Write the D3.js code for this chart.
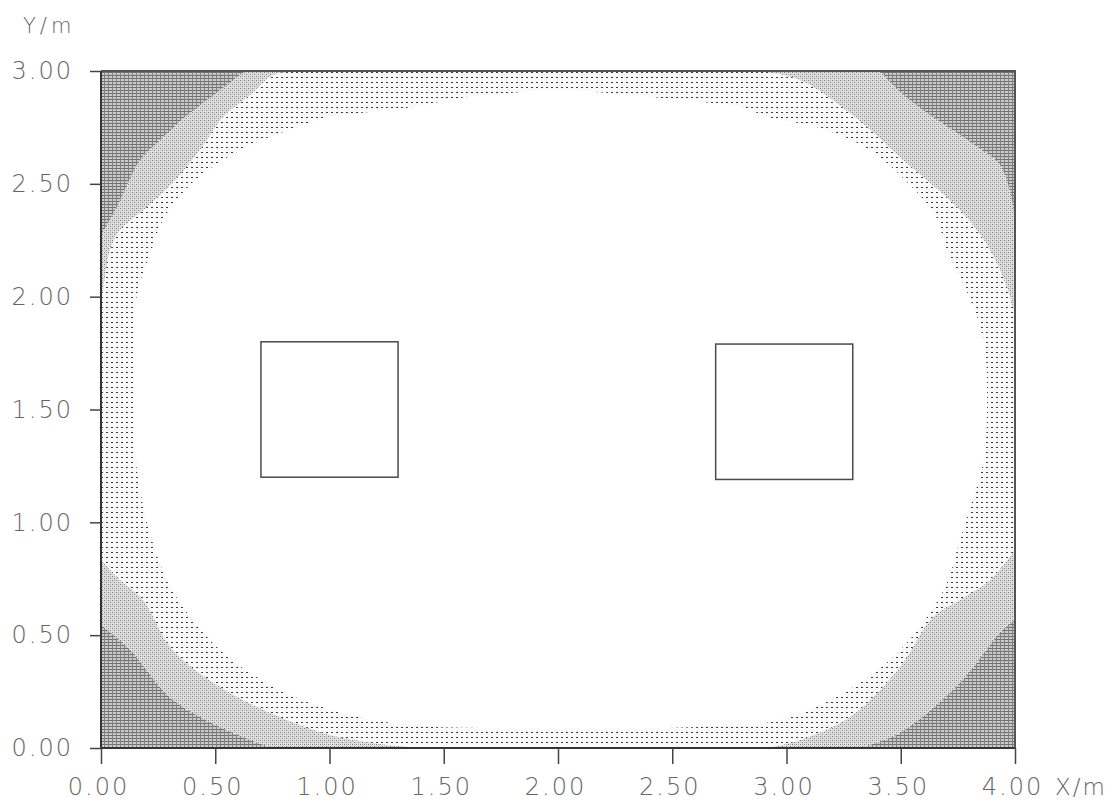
<!DOCTYPE html>
<html>
<head>
<meta charset="utf-8">
<script src="https://cdn.jsdelivr.net/npm/d3@7"></script>
<style>
  html, body { margin: 0; padding: 0; background: #fff; }
  svg { display: block; }
  .lbl, .tick text { font-family: "DejaVu Sans", "Roboto", sans-serif; font-weight: 200; fill: #666; }
  .tick text { font-size: 24px; letter-spacing: 2px; }
</style>
</head>
<body>
<svg id="chart" width="1112" height="811"></svg>
<script>
// ---- data ----
const xTicks = [0, 0.5, 1, 1.5, 2, 2.5, 3, 3.5, 4];
const yTicks = [0, 0.5, 1, 1.5, 2, 2.5, 3];
const xLabel = "X/m";
const yLabel = "Y/m";

// luminaire outlines: [x0, x1, y0, y1] in metres
const luminaires = [[0.70, 1.30, 1.20, 1.80], [2.69, 3.29, 1.19, 1.79]];

// inner (brightest) region boundary
const whiteBoundary = [
  [0.144,1.498],[0.144,1.852],[0.162,2.030],[0.214,2.185],[0.271,2.340],[0.368,2.473],
  [0.499,2.583],[0.674,2.681],[0.871,2.756],[0.989,2.796],[1.177,2.818],[1.365,2.840],
  [1.571,2.880],[1.790,2.902],[2.000,2.916],[2.228,2.902],[2.411,2.885],[2.630,2.863],
  [2.805,2.840],[2.919,2.796],[3.147,2.747],[3.365,2.650],[3.540,2.495],[3.650,2.362],
  [3.702,2.207],[3.772,2.061],[3.834,1.910],[3.869,1.764],[3.877,1.617],[3.869,1.320],
  [3.838,1.174],[3.790,1.024],[3.746,0.877],[3.702,0.731],[3.606,0.567],[3.453,0.390],
  [3.234,0.235],[2.972,0.124],[2.621,0.093],[2.009,0.089],[1.396,0.097],[1.090,0.146],
  [0.783,0.257],[0.521,0.434],[0.311,0.700],[0.223,0.922],[0.171,1.143],[0.149,1.320]
];

// middle band boundaries (per corner)
const lightTL = [[0.871,3.0],[0.753,2.982],[0.652,2.894],[0.534,2.796],[0.433,2.650],[0.324,2.517],[0.201,2.397],[0.083,2.295],[0.039,2.207],[0.013,2.061],[0,1.985]];
const lightTR = [[2.884,3.0],[3.059,2.960],[3.300,2.796],[3.510,2.606],[3.759,2.384],[3.891,2.207],[3.969,2.030],[4.0,1.919]];
const lightBL = [[0,0.833],[0.083,0.744],[0.184,0.656],[0.315,0.434],[0.565,0.244],[0.972,0.066],[1.221,0.018],[1.396,0]];
const lightBR = [[2.928,0],[3.059,0.035],[3.278,0.137],[3.497,0.359],[3.641,0.580],[3.759,0.656],[3.891,0.744],[4.0,0.877]];

// darkest band boundaries (per corner)
const darkTL = [[0.630,3.0],[0.521,2.916],[0.368,2.796],[0.258,2.694],[0.171,2.606],[0.118,2.504],[0.074,2.406],[0.018,2.304],[0,2.273]];
const darkTR = [[3.409,3.0],[3.540,2.871],[3.694,2.761],[3.825,2.672],[3.934,2.583],[3.987,2.428],[4.0,2.318]];
const darkBL = [[0,0.545],[0.127,0.434],[0.315,0.213],[0.652,0.035],[0.761,0]];
const darkBR = [[3.322,0],[3.497,0.066],[3.759,0.288],[3.934,0.510],[4.0,0.567]];

const corners = {TL: [0, 3], TR: [4, 3], BL: [0, 0], BR: [4, 0]};

// ---- drawing ----
const svg = d3.select("#chart");
const x = d3.scaleLinear().domain([0, 4]).range([101, 1015]);
const y = d3.scaleLinear().domain([0, 3]).range([748, 71]);

const defs = svg.append("defs");
// dotted pattern
const pDots = defs.append("pattern").attr("id", "dots").attr("patternUnits", "userSpaceOnUse")
  .attr("width", 5).attr("height", 5);
pDots.append("rect").attr("width", 5).attr("height", 5).attr("fill", "#fafafa");
pDots.append("rect").attr("x", 1).attr("y", 2).attr("width", 2).attr("height", 1).attr("fill", "#3a3a3a");

// light stipple pattern (mottled)
const pLight = defs.append("pattern").attr("id", "light").attr("patternUnits", "userSpaceOnUse")
  .attr("width", 4).attr("height", 4);
pLight.append("rect").attr("width", 4).attr("height", 4).attr("fill", "#e0e0e0");
pLight.append("rect").attr("x", 0).attr("y", 0).attr("width", 1).attr("height", 1).attr("fill", "#7c7c7c");
pLight.append("rect").attr("x", 2).attr("y", 2).attr("width", 1).attr("height", 1).attr("fill", "#7c7c7c");
pLight.append("rect").attr("x", 2).attr("y", 0).attr("width", 1).attr("height", 1).attr("fill", "#b4b4b4");
pLight.append("rect").attr("x", 0).attr("y", 2).attr("width", 1).attr("height", 1).attr("fill", "#c4c4c4");

// dark crosshatch pattern
const pDark = defs.append("pattern").attr("id", "dark").attr("patternUnits", "userSpaceOnUse")
  .attr("width", 4).attr("height", 3);
pDark.append("rect").attr("width", 4).attr("height", 3).attr("fill", "#cbcbcb");
pDark.append("rect").attr("x", 0).attr("y", 0).attr("width", 4).attr("height", 1).attr("fill", "#707070");
pDark.append("rect").attr("x", 0).attr("y", 0).attr("width", 1).attr("height", 3).attr("fill", "#808080");

defs.append("clipPath").attr("id", "plotClip").append("rect")
  .attr("x", x(0)).attr("y", y(3)).attr("width", x(4) - x(0)).attr("height", y(0) - y(3));

const g = svg.append("g").attr("clip-path", "url(#plotClip)");

// base: dotted band
g.append("rect").attr("x", x(0)).attr("y", y(3)).attr("width", x(4) - x(0)).attr("height", y(0) - y(3))
  .attr("fill", "url(#dots)");

const curveLine = d3.line().x(d => x(d[0])).y(d => y(d[1])).curve(d3.curveCatmullRom.alpha(0.5));
function cornerPath(pts, corner) {
  return curveLine(pts) + "L" + x(corner[0]) + "," + y(corner[1]) + "Z";
}

const lightRegions = [[lightTL, corners.TL], [lightTR, corners.TR], [lightBL, corners.BL], [lightBR, corners.BR]];
const darkRegions = [[darkTL, corners.TL], [darkTR, corners.TR], [darkBL, corners.BL], [darkBR, corners.BR]];

g.selectAll("path.light").data(lightRegions).join("path").attr("class", "light")
  .attr("d", d => cornerPath(d[0], d[1])).attr("fill", "url(#light)");
g.selectAll("path.dark").data(darkRegions).join("path").attr("class", "dark")
  .attr("d", d => cornerPath(d[0], d[1])).attr("fill", "url(#dark)");

const closedLine = d3.line().x(d => x(d[0])).y(d => y(d[1])).curve(d3.curveCatmullRomClosed.alpha(0.5));
g.append("path").attr("d", closedLine(whiteBoundary)).attr("fill", "#fff");

// luminaires
svg.selectAll("rect.lum").data(luminaires).join("rect").attr("class", "lum")
  .attr("x", d => x(d[0])).attr("y", d => y(d[3]))
  .attr("width", d => x(d[1]) - x(d[0])).attr("height", d => y(d[2]) - y(d[3]))
  .attr("fill", "none").attr("stroke", "#4a4a4a").attr("stroke-width", 1.5);

// frame (top and right edges)
svg.append("path")
  .attr("d", `M${x(0)},${y(3)}H${x(4)}V${y(0)}`)
  .attr("fill", "none").attr("stroke", "#555").attr("stroke-width", 2);

// axes
const xAxis = d3.axisBottom(x).tickValues(xTicks).tickFormat(d3.format(".2f")).tickSize(16).tickPadding(14);
const yAxis = d3.axisLeft(y).tickValues(yTicks).tickFormat(d3.format(".2f")).tickSize(11).tickPadding(17);

const gx = svg.append("g").attr("transform", `translate(0,${y(0)})`).call(xAxis);
const gy = svg.append("g").attr("transform", `translate(${x(0)},0)`).call(yAxis);
[gx, gy].forEach(a => {
  a.attr("font-family", null).attr("font-size", null);
  a.select(".domain").attr("stroke", "#333").attr("stroke-width", 2);
  a.selectAll(".tick line").attr("stroke", "#444").attr("stroke-width", 1.5);
});
gx.selectAll(".tick text").attr("dx", -3);
gy.select(".domain").attr("d", `M0,${y(3)}V${y(0)}`);
gx.select(".domain").attr("d", `M${x(0)},0H${x(4)}`);

// axis unit labels
svg.append("text").attr("class", "lbl").attr("x", 23).attr("y", 33).text(yLabel)
  .attr("font-size", 21).attr("letter-spacing", 4);
svg.append("text").attr("class", "lbl").attr("x", 1055).attr("y", 795).text(xLabel)
  .attr("font-size", 23).attr("letter-spacing", 2);
</script>
</body>
</html>
